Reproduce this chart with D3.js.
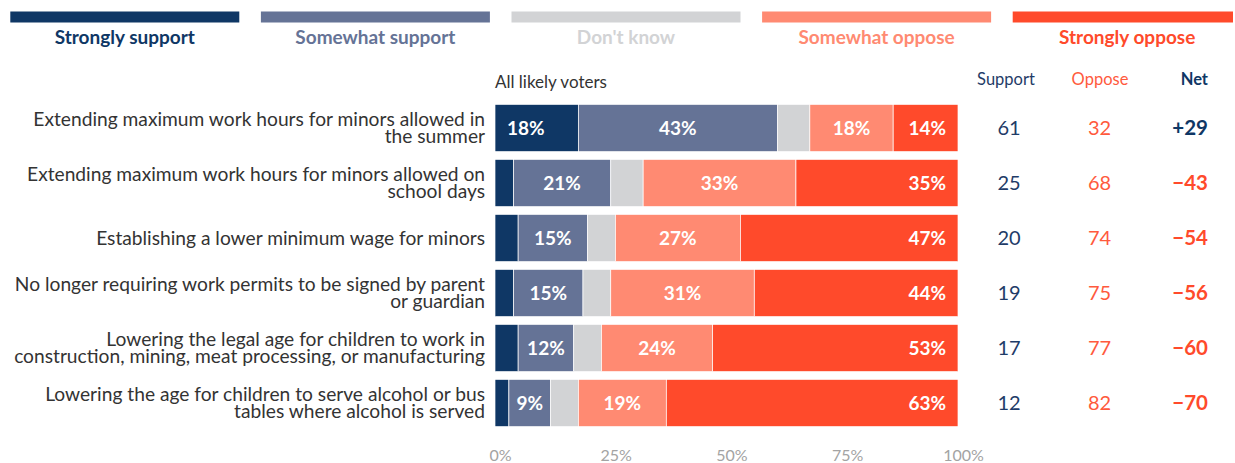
<!DOCTYPE html>
<html>
<head>
<meta charset="utf-8">
<script src="https://cdn.jsdelivr.net/npm/d3@7"></script>
<style>
  html, body { margin: 0; padding: 0; background: #fff; }
  svg { display: block; font-family: Lato, "Open Sans", sans-serif; }
</style>
</head>
<body>
<svg id="chart" width="1235" height="463"></svg>
<script>
// Survey items (line breaks mark where each label wraps)
const categories = [
  "Extending maximum work hours for minors allowed in\nthe summer",
  "Extending maximum work hours for minors allowed on\nschool days",
  "Establishing a lower minimum wage for minors",
  "No longer requiring work permits to be signed by parent\nor guardian",
  "Lowering the legal age for children to work in\nconstruction, mining, meat processing, or manufacturing",
  "Lowering the age for children to serve alcohol or bus\ntables where alcohol is served"
];

// Response shares, percent of all likely voters
const strongSupport   = [18, 4, 5, 4, 5, 3];
const somewhatSupport = [43, 21, 15, 15, 12, 9];
const dontKnow        = [7, 7, 6, 6, 6, 6];
const somewhatOppose  = [18, 33, 27, 31, 24, 19];
const strongOppose    = [14, 35, 47, 44, 53, 63];

// Summary columns
const supportTotal = [61, 25, 20, 19, 17, 12];
const opposeTotal  = [32, 68, 74, 75, 77, 82];
const netTotal     = [29, -43, -54, -56, -60, -70];

// Legend / series names
const seriesNames = ["Strongly support", "Somewhat support", "Don't know", "Somewhat oppose", "Strongly oppose"];
const seriesColors = ["#0f3765", "#657396", "#d2d3d5", "#ff8a72", "#ff4a2b"];

// Axis ticks
const tickValues = [0, 25, 50, 75, 100];
const tickLabels = ["0%", "25%", "50%", "75%", "100%"];

const keys = ["ss", "sws", "dk", "swo", "so"];
const table = categories.map((c, i) => ({
  category: c,
  ss: strongSupport[i],
  sws: somewhatSupport[i],
  dk: dontKnow[i],
  swo: somewhatOppose[i],
  so: strongOppose[i],
  support: supportTotal[i],
  oppose: opposeTotal[i],
  net: netTotal[i]
}));

const svg = d3.select("#chart");
svg.append("rect").attr("width", 1235).attr("height", 463).attr("fill", "#fff");

const x = d3.scaleLinear().domain([0, 100]).range([495, 958]);
const y = d3.scaleBand().domain(categories).range([100.5, 430.5])
  .paddingInner(0.14).paddingOuter(0.07);
const color = d3.scaleOrdinal().domain(keys).range(seriesColors);

// Legend: five swatches across the top, label centred under each
const legendX = d3.scaleBand().domain(seriesNames).range([10.3, 1241.7]).paddingInner(0.0862);
const legend = svg.append("g").selectAll("g").data(seriesNames).join("g")
  .attr("transform", d => `translate(${legendX(d)},0)`);
legend.append("rect")
  .attr("y", 11.5).attr("height", 11)
  .attr("width", d => Math.min(legendX.bandwidth(), 1233 - legendX(d)))
  .attr("fill", (d, i) => seriesColors[i]);
legend.append("text")
  .attr("x", legendX.bandwidth() / 2).attr("y", 44)
  .attr("text-anchor", "middle")
  .attr("font-size", 19).attr("font-weight", 700)
  .attr("fill", (d, i) => seriesColors[i])
  .text(d => d);

// Column headers
svg.append("text").attr("x", 495).attr("y", 88)
  .attr("font-size", 17).attr("fill", "#333").text("All likely voters");
svg.append("text").attr("x", 1006).attr("y", 85).attr("text-anchor", "middle")
  .attr("font-size", 16.5).attr("fill", "#1f3c68").text("Support");
svg.append("text").attr("x", 1100).attr("y", 85).attr("text-anchor", "middle")
  .attr("font-size", 16.5).attr("fill", "#ff5a3d").text("Oppose");
svg.append("text").attr("x", 1208).attr("y", 85).attr("text-anchor", "end")
  .attr("font-size", 16.5).attr("font-weight", 700).attr("fill", "#0f3765").text("Net");

// Stacked bars
const stacked = d3.stack().keys(keys)(table);
const layers = svg.append("g").selectAll("g").data(stacked).join("g")
  .attr("fill", d => color(d.key));
layers.selectAll("rect").data(d => d.map(s => ({ s, key: d.key }))).join("rect")
  .attr("x", d => x(d.s[0]))
  .attr("width", d => x(d.s[1]) - x(d.s[0]))
  .attr("y", d => y(d.s.data.category))
  .attr("height", y.bandwidth())
  .attr("stroke", "#fff").attr("stroke-width", 0.7);

// Value labels inside the bars (Don't know and thin slivers stay unlabelled)
const labelled = stacked.filter(l => l.key !== "dk");
const valueLabels = svg.append("g").selectAll("g").data(labelled).join("g");
valueLabels.selectAll("text")
  .data(l => l.map(s => ({ s, key: l.key, v: s.data[l.key] })).filter(d => {
    return !(d.key === "ss" && d.v < 10);
  }))
  .join("text")
  .attr("x", d => d.key === "ss" ? x(d.s[0]) + 12
                : d.key === "so" ? x(d.s[1]) - 12
                : (x(d.s[0]) + x(d.s[1])) / 2)
  .attr("text-anchor", d => d.key === "ss" ? "start" : d.key === "so" ? "end" : "middle")
  .attr("y", d => y(d.s.data.category) + y.bandwidth() / 2 + 6.8)
  .attr("font-size", 19).attr("font-weight", 700).attr("fill", "#fff")
  .text(d => d.v + "%");

// Category labels, right-aligned against the bars
const catLabels = svg.append("g").selectAll("text").data(table).join("text")
  .attr("text-anchor", "end").attr("font-size", 19.2).attr("fill", "#333");
catLabels.each(function (d) {
  const lines = d.category.split("\n");
  const cy = y(d.category) + y.bandwidth() / 2;
  const lh = 17.6;
  const first = cy + 6.6 - (lines.length - 1) * lh / 2;
  d3.select(this).selectAll("tspan").data(lines).join("tspan")
    .attr("x", 485).attr("y", (t, i) => first + i * lh).text(t => t);
});

// Summary columns
const rows = svg.append("g").selectAll("g").data(table).join("g")
  .attr("transform", d => `translate(0,${y(d.category) + y.bandwidth() / 2 + 7})`);
rows.append("text").attr("x", 1009).attr("text-anchor", "middle")
  .attr("font-size", 20).attr("fill", "#1f3c68").text(d => d.support);
rows.append("text").attr("x", 1099.5).attr("text-anchor", "middle")
  .attr("font-size", 20).attr("fill", "#ff5a3d").text(d => d.oppose);
rows.append("text").attr("x", 1208).attr("text-anchor", "end")
  .attr("font-size", 20.5).attr("font-weight", 700)
  .attr("fill", d => d.net >= 0 ? "#0f3765" : "#ff4a2b")
  .text(d => (d.net >= 0 ? "+" : "\u2212") + Math.abs(d.net));

// Percentage axis
const axis = d3.axisBottom(x).tickValues(tickValues)
  .tickFormat((d, i) => tickLabels[i]).tickSize(0).tickPadding(0);
const axisG = svg.append("g").attr("transform", "translate(0,461)").call(axis);
axisG.select(".domain").remove();
axisG.selectAll("text")
  .attr("y", 0).attr("dy", null).attr("dx", 5)
  .attr("font-family", "Lato, 'Open Sans', sans-serif")
  .attr("font-size", 16).attr("fill", "#a3a3a3");
</script>
</body>
</html>
